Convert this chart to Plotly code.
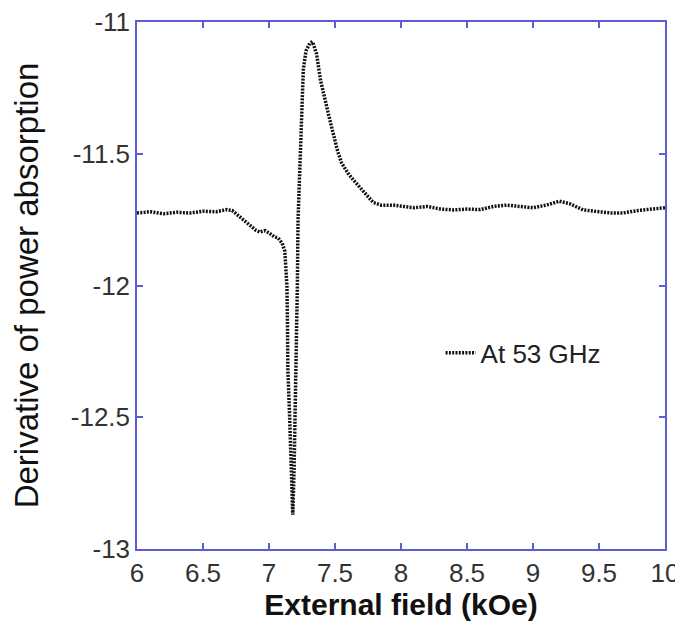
import plotly.graph_objects as go

# External field (kOe)
field = [6.00, 6.10, 6.20, 6.30, 6.40, 6.50, 6.60, 6.68, 6.72, 6.78, 6.83, 6.87, 6.90, 6.93,
         6.97, 7.00, 7.04, 7.07, 7.10, 7.12, 7.13, 7.136, 7.14, 7.143, 7.155, 7.165, 7.175,
         7.18, 7.19, 7.197, 7.205, 7.21, 7.215, 7.22, 7.235, 7.245, 7.26, 7.28, 7.31, 7.33,
         7.36, 7.39, 7.42, 7.46, 7.49, 7.52, 7.55, 7.60, 7.64, 7.70, 7.75, 7.79, 7.85, 7.95,
         8.02, 8.10, 8.20, 8.30, 8.40, 8.50, 8.60, 8.70, 8.80, 8.90, 9.00, 9.10, 9.20, 9.28,
         9.38, 9.50, 9.60, 9.68, 9.80, 9.90, 10.00]

# Derivative of power absorption at 53 GHz
absorption = [-11.725, -11.72, -11.728, -11.722, -11.725, -11.718, -11.72, -11.712, -11.715,
              -11.74, -11.762, -11.78, -11.79, -11.797, -11.792, -11.80, -11.815, -11.82,
              -11.84, -11.87, -11.93, -12.005, -12.15, -12.32, -12.48, -12.64, -12.78,
              -12.87, -12.70, -12.51, -12.35, -12.26, -12.0, -11.75, -11.55, -11.40, -11.18,
              -11.11, -11.08, -11.075, -11.12, -11.22, -11.29, -11.37, -11.43, -11.49,
              -11.535, -11.575, -11.60, -11.635, -11.665, -11.685, -11.695, -11.695, -11.70,
              -11.705, -11.70, -11.71, -11.713, -11.71, -11.712, -11.70, -11.695, -11.70,
              -11.705, -11.695, -11.68, -11.69, -11.713, -11.72, -11.725, -11.725, -11.715,
              -11.71, -11.705]

x_tickvals = [6, 6.5, 7, 7.5, 8, 8.5, 9, 9.5, 10]
x_ticktext = ["6", "6.5", "7", "7.5", "8", "8.5", "9", "9.5", "10"]
y_tickvals = [-11, -11.5, -12, -12.5, -13]
y_ticktext = ["-11", "-11.5", "-12", "-12.5", "-13"]

series_name = "At 53 GHz"

FONT = "Liberation Sans, Arial, sans-serif"
FRAME = "#5c5cd6"

fig = go.Figure()
fig.add_trace(go.Scatter(
    x=field, y=absorption, mode="lines", name=series_name,
    line=dict(color="#111111", width=3.5, dash="2px,1.3px"),
))

axis_common = dict(
    showline=True, mirror="ticks", linecolor=FRAME, linewidth=1.5,
    ticks="inside", ticklen=6, tickwidth=1.5, tickcolor=FRAME,
    showgrid=False, zeroline=False, automargin=False,
    ticklabeloverflow="allow",
    tickfont=dict(family=FONT, size=26, color="#333333"),
)

# the page body adds an 8px offset, so the figure is sized 8px smaller
fig.update_layout(
    width=675, height=624,
    margin=dict(l=129, r=18, t=14, b=83),
    paper_bgcolor="white", plot_bgcolor="white",
    font=dict(family=FONT),
    showlegend=True,
    legend=dict(x=0.575, y=0.372, xanchor="left", yanchor="middle",
                bgcolor="rgba(0,0,0,0)", font=dict(family=FONT, size=26, color="#222222")),
    xaxis=dict(range=[6, 10], tickvals=x_tickvals, ticktext=x_ticktext,
               title=dict(text="<b>External field (kOe)</b>", standoff=0,
                          font=dict(family=FONT, size=30, color="#111111")),
               **axis_common),
    yaxis=dict(range=[-13, -11], tickvals=y_tickvals, ticktext=y_ticktext,
               title=dict(text="Derivative of power absorption", standoff=22,
                          font=dict(family=FONT, size=33, color="#111111")),
               **axis_common),
)

fig.write_html("out.html")
